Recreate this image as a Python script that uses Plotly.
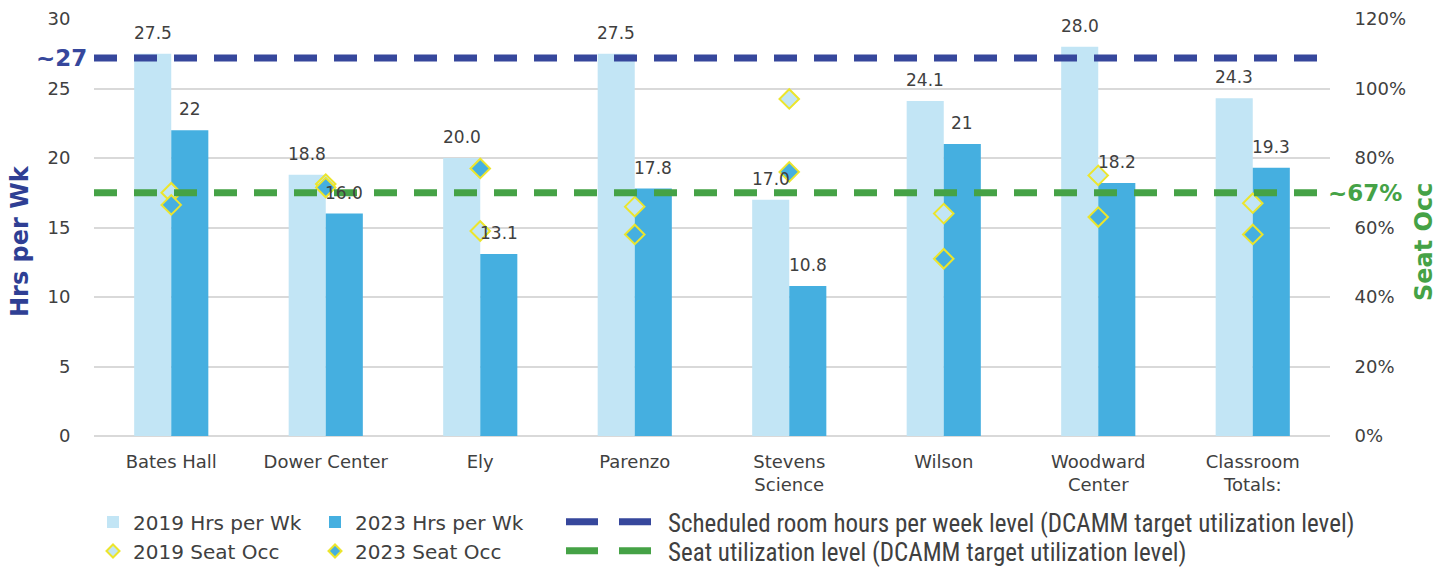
import plotly.graph_objects as go

# ---- data -------------------------------------------------------------
buildings = ["Bates Hall", "Dower Center", "Ely", "Parenzo", "Stevens<br>Science",
             "Wilson", "Woodward<br>Center", "Classroom<br>Totals:"]
hrs_2019 = [27.5, 18.8, 20.0, 27.5, 17.0, 24.1, 28.0, 24.3]
hrs_2023 = [22.0, 16.0, 13.1, 17.8, 10.8, 21.0, 18.2, 19.3]
labels_2019 = ["27.5", "18.8", "20.0", "27.5", "17.0", "24.1", "28.0", "24.3"]
labels_2023 = ["22", "16.0", "13.1", "17.8", "10.8", "21", "18.2", "19.3"]
seat_2019 = [0.70, 0.725, 0.59, 0.66, 0.97, 0.64, 0.75, 0.67]
seat_2023 = [0.665, 0.715, 0.77, 0.58, 0.76, 0.51, 0.63, 0.58]
sched_level = 27.2      # ~27 hrs/week target
seat_level = 0.70       # ~67% seat utilisation target

# ---- styling ----------------------------------------------------------
C19 = "#c2e5f5"
C23 = "#45afe0"
BLUE = "#36479c"
TITLE_BLUE = "#2f3f94"
GREEN = "#45a246"
YELLOW = "#ece52c"
TXT = "#404040"
GRID = "#d9d9d9"
FONT = "DejaVu Sans"
NARROW = "Liberation Sans Narrow, Roboto Condensed, Arial Narrow, Liberation Sans, sans-serif"

W, H = 1452, 567
ML, MR, MT, MB = 94, 122, 19, 131
PW, PH = W - ML - MR, H - MT - MB
xs = list(range(len(buildings)))
x_lo, x_hi = -0.5, len(buildings) - 0.5
BW = 0.24
LEVEL_DASH = "23px,17px"
LEGEND_DASH = "32px,21px"

fig = go.Figure()

fig.add_trace(go.Bar(x=xs, y=hrs_2019, width=BW, offset=-BW, marker=dict(color=C19, line_width=0),
                     name="2019 Hrs per Wk", legend="legend"))
fig.add_trace(go.Bar(x=xs, y=hrs_2023, width=BW, offset=0, marker=dict(color=C23, line_width=0),
                     name="2023 Hrs per Wk", legend="legend2"))
fig.add_trace(go.Scatter(x=[x_lo, x_hi], y=[sched_level, sched_level], mode="lines",
                         line=dict(color=BLUE, width=7, dash=LEVEL_DASH), showlegend=False))
fig.add_trace(go.Scatter(x=xs, y=seat_2019, yaxis="y2", mode="markers",
                         marker=dict(symbol="diamond", size=15, color=C19,
                                     line=dict(color=YELLOW, width=2)), showlegend=False))
fig.add_trace(go.Scatter(x=xs, y=seat_2023, yaxis="y2", mode="markers",
                         marker=dict(symbol="diamond", size=15, color=C23,
                                     line=dict(color=YELLOW, width=2)), showlegend=False))
fig.add_trace(go.Scatter(x=[x_lo, x_hi], y=[seat_level, seat_level], yaxis="y2", mode="lines",
                         line=dict(color=GREEN, width=7, dash=LEVEL_DASH), showlegend=False))

# legend keys (smaller symbols than the plotted marks)
fig.add_trace(go.Scatter(x=[None], y=[None], mode="lines",
                         line=dict(color=BLUE, width=7, dash=LEGEND_DASH),
                         name="Scheduled room hours per week level (DCAMM target utilization level)",
                         legend="legend3"))
fig.add_trace(go.Scatter(x=[None], y=[None], mode="markers",
                         marker=dict(symbol="diamond", size=10, color=C19,
                                     line=dict(color=YELLOW, width=2)),
                         name="2019 Seat Occ", legend="legend4"))
fig.add_trace(go.Scatter(x=[None], y=[None], mode="markers",
                         marker=dict(symbol="diamond", size=10, color=C23,
                                     line=dict(color=YELLOW, width=2)),
                         name="2023 Seat Occ", legend="legend5"))
fig.add_trace(go.Scatter(x=[None], y=[None], mode="lines",
                         line=dict(color=GREEN, width=7, dash=LEGEND_DASH),
                         name="Seat utilization level (DCAMM target utilization level)",
                         legend="legend6"))

# value labels above bars
annotations = []
for i in xs:
    annotations.append(dict(x=i - BW / 2, y=hrs_2019[i], text=labels_2019[i], showarrow=False,
                            xref="x", yref="y", yanchor="bottom", yshift=9,
                            font=dict(family=FONT, size=17, color=TXT)))
    annotations.append(dict(x=i + BW / 2, y=hrs_2023[i], text=labels_2023[i], showarrow=False,
                            xref="x", yref="y", yanchor="bottom", yshift=9,
                            font=dict(family=FONT, size=17, color=TXT)))
# target level call-outs
annotations.append(dict(x=0, y=sched_level, xref="paper", yref="y", text="<b>~27</b>",
                        showarrow=False, xanchor="right", xshift=-5,
                        font=dict(family=FONT, size=23, color=BLUE)))
annotations.append(dict(x=1, y=seat_level, xref="paper", yref="y2", text="<b>~67%</b>",
                        showarrow=False, xanchor="left", xshift=-4,
                        font=dict(family=FONT, size=23, color=GREEN)))
# axis titles
annotations.append(dict(x=(20 - ML) / PW, y=(H - MB - 241) / PH, xref="paper", yref="paper",
                        text="<b>Hrs per Wk</b>", textangle=-90, showarrow=False,
                        xanchor="center", yanchor="middle",
                        font=dict(family=FONT, size=24, color=TITLE_BLUE)))
annotations.append(dict(x=(1424 - ML) / PW, y=(H - MB - 242) / PH, xref="paper", yref="paper",
                        text="<b>Seat Occ</b>", textangle=-90, showarrow=False,
                        xanchor="center", yanchor="middle",
                        font=dict(family=FONT, size=24, color=GREEN)))


def leg(x_px, y_px, font, itemwidth=30):
    return dict(xref="container", yref="container", x=x_px / W, y=1 - y_px / H,
                xanchor="left", yanchor="middle", bgcolor="rgba(0,0,0,0)",
                itemwidth=itemwidth, itemsizing="trace", font=font)


f_leg = dict(family=FONT, size=20, color=TXT)
f_narrow = dict(family=NARROW, size=25, color=TXT)

fig.update_layout(
    width=W, height=H,
    margin=dict(l=ML, r=MR, t=MT, b=MB, autoexpand=False),
    paper_bgcolor="white", plot_bgcolor="white",
    barmode="overlay",
    showlegend=True,
    font=dict(family=FONT, color=TXT),
    xaxis=dict(range=[x_lo, x_hi], tickvals=xs, ticktext=buildings, showgrid=False,
               zeroline=False, showline=False, ticks="outside", ticklen=9,
               tickcolor="rgba(0,0,0,0)", tickfont=dict(family=FONT, size=18, color=TXT)),
    yaxis=dict(range=[0, 30], dtick=5, showgrid=True, gridcolor=GRID, gridwidth=1.5,
               zeroline=True, zerolinecolor=GRID, zerolinewidth=1.5,
               ticks="outside", ticklen=19, tickcolor="rgba(0,0,0,0)",
               tickfont=dict(family=FONT, size=18, color=TXT)),
    yaxis2=dict(range=[0, 1.2], dtick=0.2, tickformat=".0%", overlaying="y", side="right",
                showgrid=False, zeroline=False, ticks="outside", ticklen=20,
                tickcolor="rgba(0,0,0,0)", tickfont=dict(family=FONT, size=18, color=TXT)),
    annotations=annotations,
    legend=leg(93, 522, f_leg),
    legend2=leg(315, 522, f_leg),
    legend3=leg(561, 522, f_narrow, itemwidth=97),
    legend4=leg(93, 551, f_leg),
    legend5=leg(315, 551, f_leg),
    legend6=leg(561, 551, f_narrow, itemwidth=97),
)

fig.write_html("out.html")
